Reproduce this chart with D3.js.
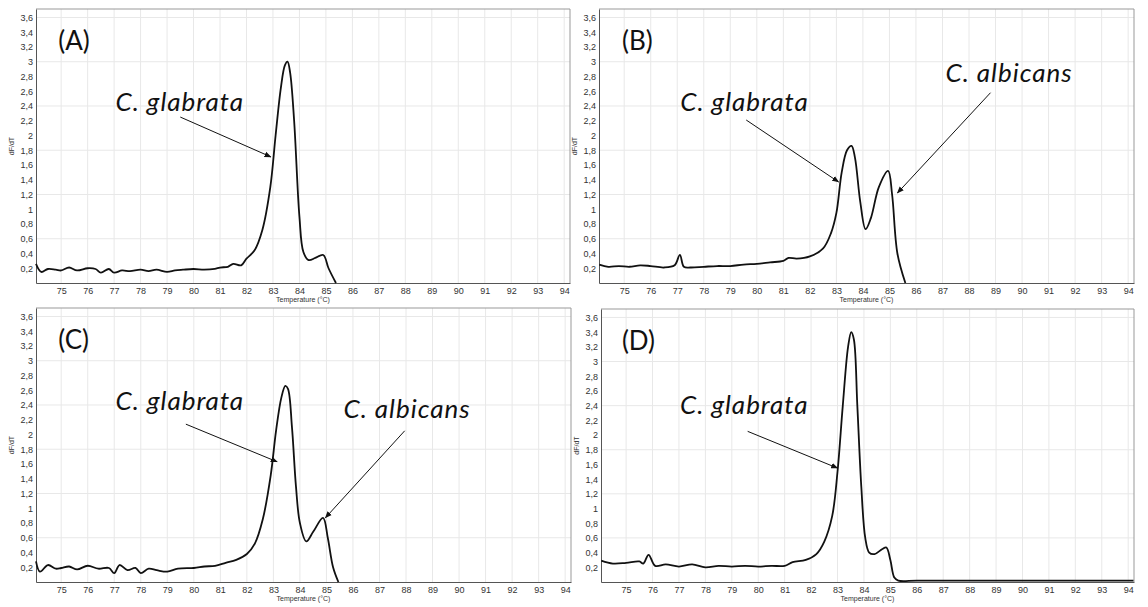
<!DOCTYPE html>
<html>
<head>
<meta charset="utf-8">
<script src="https://cdn.jsdelivr.net/npm/d3@7"></script>
<style>
  body { margin: 0; background: #fff; }
  .tick text { font-family: "Liberation Sans", Arial, sans-serif; font-size: 9px; fill: #333; }
  .species { font-family: Lato, "Open Sans", sans-serif; font-style: italic; font-size: 26px; letter-spacing: 1px; fill: #111; }
  .plabel { font-family: Lato, "Open Sans", sans-serif; font-size: 26px; fill: #111; }
  .atitle { font-family: "Liberation Sans", Arial, sans-serif; font-size: 7px; fill: #333; }
</style>
</head>
<body>
<svg class="chart"></svg>
<script>
var width = 1148;
var height = 607;

// melt curves, temperature (°C) and dF/dT
var tempA = [74.05, 74.25, 74.5, 74.8, 75.0, 75.3, 75.6, 76.0, 76.3, 76.5, 76.8, 77.0, 77.3, 77.6, 78.0, 78.3, 78.6, 79.0, 79.3, 79.6, 80.0, 80.4, 80.8, 81.0, 81.3, 81.5, 81.8, 82.0, 82.3, 82.6, 82.9, 83.1, 83.3, 83.45, 83.55, 83.65, 83.8, 84.0, 84.15, 84.35, 84.6, 84.9, 85.1, 85.38];
var dfA   = [0.26, 0.15, 0.19, 0.18, 0.17, 0.21, 0.17, 0.20, 0.19, 0.14, 0.19, 0.14, 0.17, 0.16, 0.18, 0.16, 0.18, 0.15, 0.17, 0.18, 0.19, 0.18, 0.19, 0.21, 0.22, 0.26, 0.24, 0.33, 0.44, 0.72, 1.3, 2.0, 2.65, 2.95, 3.0, 2.85, 2.2, 0.9, 0.42, 0.31, 0.34, 0.38, 0.2, 0.0];

var tempB = [74.06, 74.4, 74.8, 75.2, 75.6, 76.0, 76.5, 76.9, 77.1, 77.25, 77.5, 78.0, 78.5, 79.0, 79.5, 80.0, 80.5, 81.0, 81.2, 81.5, 82.0, 82.5, 82.8, 83.0, 83.2, 83.4, 83.57, 83.7, 83.9, 84.1, 84.3, 84.6, 84.95, 85.1, 85.3, 85.6];
var dfB   = [0.25, 0.22, 0.23, 0.22, 0.24, 0.23, 0.21, 0.24, 0.38, 0.22, 0.21, 0.22, 0.23, 0.23, 0.25, 0.26, 0.28, 0.30, 0.34, 0.33, 0.36, 0.47, 0.68, 0.95, 1.5, 1.8, 1.86, 1.7, 1.1, 0.73, 0.88, 1.3, 1.52, 1.2, 0.4, 0.0];

var tempC = [74.05, 74.2, 74.5, 74.8, 75.0, 75.3, 75.6, 76.0, 76.4, 76.8, 77.0, 77.2, 77.5, 77.8, 78.0, 78.3, 78.6, 79.0, 79.4, 80.0, 80.4, 80.8, 81.2, 81.6, 82.0, 82.3, 82.6, 82.9, 83.1, 83.3, 83.45, 83.55, 83.7, 83.85, 84.0, 84.24, 84.5, 84.87, 85.05, 85.25, 85.45];
var dfC   = [0.28, 0.14, 0.23, 0.18, 0.19, 0.21, 0.17, 0.22, 0.18, 0.19, 0.12, 0.23, 0.16, 0.19, 0.12, 0.18, 0.16, 0.14, 0.18, 0.19, 0.21, 0.22, 0.26, 0.30, 0.38, 0.52, 0.85, 1.45, 2.05, 2.5, 2.66, 2.62, 2.1, 1.3, 0.8, 0.55, 0.68, 0.87, 0.6, 0.2, 0.0];

var tempD = [74.06, 74.5, 75.0, 75.5, 75.65, 75.85, 76.1, 76.5, 77.0, 77.5, 78.0, 78.5, 79.0, 79.5, 80.0, 80.5, 81.0, 81.3, 81.8, 82.2, 82.5, 82.8, 83.0, 83.2, 83.4, 83.52, 83.62, 83.75, 83.9, 84.05, 84.2, 84.4, 84.7, 84.85, 85.0, 85.15, 85.3, 86.0, 88.0, 90.0, 92.0, 94.2];
var dfD   = [0.29, 0.25, 0.26, 0.28, 0.25, 0.37, 0.22, 0.24, 0.21, 0.24, 0.20, 0.22, 0.21, 0.22, 0.21, 0.22, 0.22, 0.27, 0.30, 0.38, 0.55, 0.9, 1.5, 2.4, 3.2, 3.4, 3.3, 2.4, 1.3, 0.6, 0.4, 0.38, 0.45, 0.47, 0.3, 0.06, 0.02, 0.02, 0.02, 0.02, 0.02, 0.02];

// annotations in data units: [temperature, dF/dT]
var labelA = {text: "(A)", at: [74.89, 3.16]};
var labelB = {text: "(B)", at: [74.92, 3.16]};
var labelC = {text: "(C)", at: [74.89, 3.16]};
var labelD = {text: "(D)", at: [74.84, 3.16]};

var notesA = [{text: "C. glabrata", at: [77.05, 2.33], from: [79.5, 2.25], to: [82.92, 1.71]}];
var notesB = [{text: "C. glabrata", at: [77.11, 2.33], from: [79.6, 2.21], to: [83.08, 1.37]},
              {text: "C. albicans", at: [87.11, 2.72], from: [88.81, 2.58], to: [85.3, 1.22]}];
var notesC = [{text: "C. glabrata", at: [77.05, 2.33], from: [79.7, 2.14], to: [83.14, 1.63]},
              {text: "C. albicans", at: [85.64, 2.22], from: [87.95, 2.05], to: [84.96, 0.87]}];
var notesD = [{text: "C. glabrata", at: [77.04, 2.28], from: [79.6, 2.05], to: [83.0, 1.55]}];

var xTicks = d3.range(75, 95);
var yTicks = d3.range(1, 19).map(function(d) { return d / 5; });
var gridY = [0.6, 1.2, 1.8, 2.4, 3.0, 3.6];

var tempDomain = [74.05, 94.22];
var dfDomain = [0, 3.715];

var panels = [
    {temp: tempA, df: dfA, label: labelA, notes: notesA, x0: 36, x1: 570, y0: 9, y1: 283},
    {temp: tempB, df: dfB, label: labelB, notes: notesB, x0: 599, x1: 1134, y0: 9, y1: 283},
    {temp: tempC, df: dfC, label: labelC, notes: notesC, x0: 36, x1: 571, y0: 308, y1: 582},
    {temp: tempD, df: dfD, label: labelD, notes: notesD, x0: 601, x1: 1134, y0: 309, y1: 582}
];

var chart = d3.select(".chart")
    .attr("width", width)
    .attr("height", height);

chart.append("defs").append("marker")
    .attr("id", "head")
    .attr("viewBox", "0 0 10 10")
    .attr("refX", 9)
    .attr("refY", 5)
    .attr("markerWidth", 7)
    .attr("markerHeight", 7)
    .attr("markerUnits", "userSpaceOnUse")
    .attr("orient", "auto")
    .append("path")
    .attr("d", "M0,1 L10,5 L0,9 Z")
    .attr("fill", "#111");

var fmt = function(d) { return d3.format(".1f")(d).replace(".0", "").replace(".", ","); };

panels.forEach(function(p) {
    var x = d3.scaleLinear().domain(tempDomain).range([p.x0, p.x1]);
    var y = d3.scaleLinear().domain(dfDomain).range([p.y1, p.y0]);
    var g = chart.append("g");

    // grid
    g.selectAll("line.vgrid")
        .data(xTicks)
        .enter()
        .append("line")
        .attr("x1", function(d) { return x(d); })
        .attr("x2", function(d) { return x(d); })
        .attr("y1", p.y0)
        .attr("y2", p.y1)
        .attr("stroke", "#e8e8e8");
    g.selectAll("line.hgrid")
        .data(gridY)
        .enter()
        .append("line")
        .attr("x1", p.x0)
        .attr("x2", p.x1)
        .attr("y1", function(d) { return y(d); })
        .attr("y2", function(d) { return y(d); })
        .attr("stroke", "#e8e8e8");

    // frame top and right
    g.append("path")
        .attr("d", "M" + p.x0 + "," + p.y0 + "H" + p.x1 + "V" + p.y1)
        .attr("fill", "none")
        .attr("stroke", "#999");

    var xAxis = g.append("g")
        .attr("transform", "translate(0," + p.y1 + ")")
        .call(d3.axisBottom(x).tickValues(xTicks).tickSize(0).tickPadding(5).tickFormat(d3.format("d")));
    xAxis.select(".domain").attr("stroke", "#555");

    var yAxis = g.append("g")
        .attr("transform", "translate(" + p.x0 + ",0)")
        .call(d3.axisLeft(y).tickValues(yTicks).tickSize(0).tickPadding(3).tickFormat(fmt));
    yAxis.select(".domain").attr("stroke", "#555");

    g.append("text")
        .attr("class", "atitle")
        .attr("x", (p.x0 + p.x1) / 2)
        .attr("y", p.y1 + 19)
        .attr("text-anchor", "middle")
        .text("Temperature (°C)");

    g.append("text")
        .attr("class", "atitle")
        .attr("transform", "translate(" + (p.x0 - 22) + "," + ((p.y0 + p.y1) / 2) + ") rotate(-90)")
        .attr("text-anchor", "middle")
        .text("dF/dT");

    // curve
    var line = d3.line()
        .x(function(d) { return x(d[0]); })
        .y(function(d) { return y(d[1]); })
        .curve(d3.curveCatmullRom.alpha(0.5));
    g.append("path")
        .datum(d3.zip(p.temp, p.df))
        .attr("d", line)
        .attr("fill", "none")
        .attr("stroke", "#111")
        .attr("stroke-width", 1.8)
        .attr("stroke-linejoin", "round");

    g.append("text")
        .attr("class", "plabel")
        .attr("x", x(p.label.at[0]))
        .attr("y", y(p.label.at[1]))
        .text(p.label.text);

    g.selectAll("line.arrow")
        .data(p.notes)
        .enter()
        .append("line")
        .attr("x1", function(d) { return x(d.from[0]); })
        .attr("y1", function(d) { return y(d.from[1]); })
        .attr("x2", function(d) { return x(d.to[0]); })
        .attr("y2", function(d) { return y(d.to[1]); })
        .attr("stroke", "#111")
        .attr("stroke-width", 1)
        .attr("marker-end", "url(#head)");

    g.selectAll("text.species")
        .data(p.notes)
        .enter()
        .append("text")
        .attr("class", "species")
        .attr("x", function(d) { return x(d.at[0]); })
        .attr("y", function(d) { return y(d.at[1]); })
        .text(function(d) { return d.text; });
});
</script>
</body>
</html>
